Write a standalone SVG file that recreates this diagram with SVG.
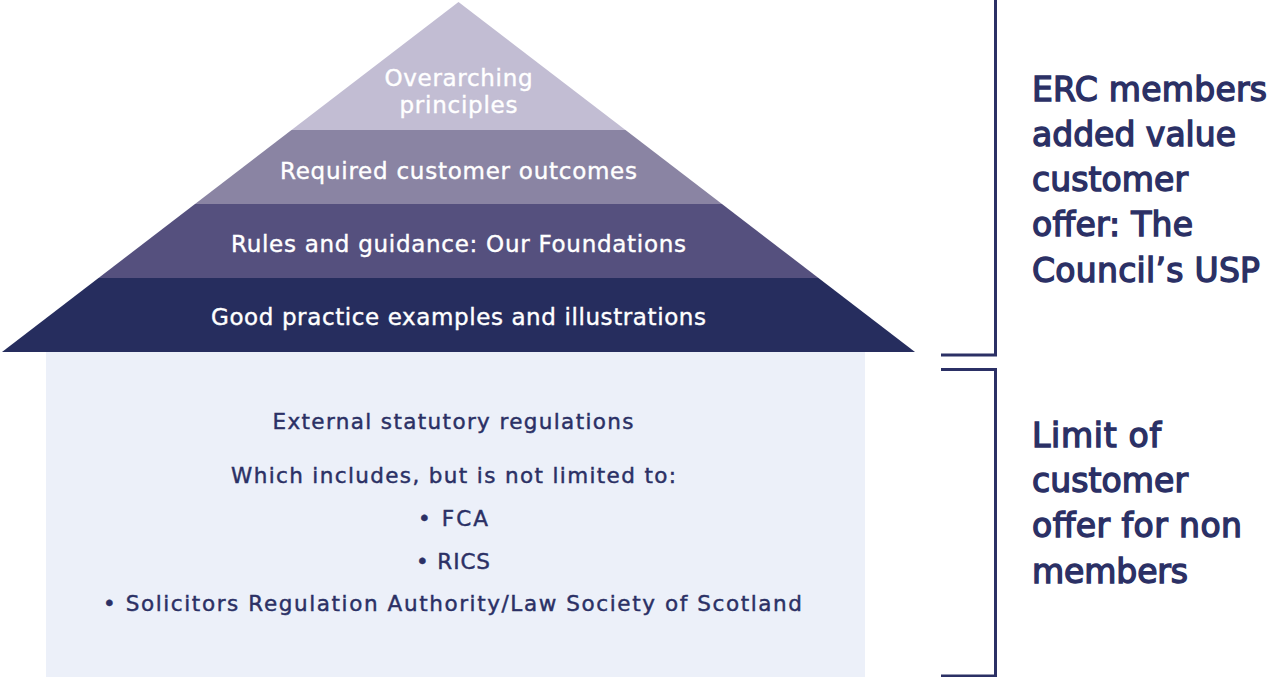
<svg xmlns="http://www.w3.org/2000/svg" width="1277" height="677" viewBox="0 0 1277 677">
<style>
.t{font-family:"DejaVu Sans","Liberation Sans",sans-serif}
.w{fill:#ffffff;stroke:#ffffff;stroke-width:0.4;font-size:23px}
.d{fill:#2B3065;stroke:#2B3065;stroke-width:0.45;font-size:21.5px}
.r{fill:#2B3065;stroke:#2B3065;stroke-width:1.4;font-size:33px}
.br{fill:none;stroke:#2B3065;stroke-width:3}
</style>
<rect width="1277" height="677" fill="#ffffff"/>
<g id="base">
<rect x="46" y="352" width="819" height="325" fill="#ECF0F9"/>
<text class="t d" x="453" y="429" text-anchor="middle" textLength="361">External statutory regulations</text>
<text class="t d" x="453.5" y="483" text-anchor="middle" textLength="445">Which includes, but is not limited to:</text>
<text class="t d" x="453" y="526" text-anchor="middle" textLength="70">• FCA</text>
<text class="t d" x="453" y="569" text-anchor="middle" textLength="74">• RICS</text>
<text class="t d" x="452.5" y="611" text-anchor="middle" textLength="699">• Solicitors Regulation Authority/Law Society of Scotland</text>
</g>
<g id="layer-top">
<polygon points="458.5,2 625.5,130 291.5,130" fill="#C2BDD3"/>
<text class="t w" x="458.5" y="86" text-anchor="middle" textLength="148">Overarching</text>
<text class="t w" x="458.5" y="113" text-anchor="middle" textLength="118">principles</text>
</g>
<g id="layer-outcomes">
<polygon points="291.5,130 625.5,130 722,204 195,204" fill="#8A84A3"/>
<text class="t w" x="458.5" y="179" text-anchor="middle" textLength="357">Required customer outcomes</text>
</g>
<g id="layer-rules">
<polygon points="195,204 722,204 818.5,278 98.5,278" fill="#55507E"/>
<text class="t w" x="458.5" y="252" text-anchor="middle" textLength="455">Rules and guidance: Our Foundations</text>
</g>
<g id="layer-practice">
<polygon points="98.5,278 818.5,278 915,352 2,352" fill="#262D5E"/>
<text class="t w" x="458.5" y="325" text-anchor="middle" textLength="495">Good practice examples and illustrations</text>
</g>
<g id="connectors">
<path class="br" d="M941,355 H995.5 V0"/>
<path class="br" d="M941,369.5 H995.5 V676 H941"/>
</g>
<g id="label-members">
<text class="t r" x="1032" y="101" textLength="235">ERC members</text>
<text class="t r" x="1032" y="146" textLength="204">added value</text>
<text class="t r" x="1032" y="191" textLength="156">customer</text>
<text class="t r" x="1032" y="236" textLength="161">offer: The</text>
<text class="t r" x="1032" y="282" textLength="228">Council’s USP</text>
</g>
<g id="label-nonmembers">
<text class="t r" x="1032" y="447" textLength="129">Limit of</text>
<text class="t r" x="1032" y="492" textLength="156">customer</text>
<text class="t r" x="1032" y="537" textLength="210">offer for non</text>
<text class="t r" x="1032" y="583" textLength="156">members</text>
</g>
</svg>
